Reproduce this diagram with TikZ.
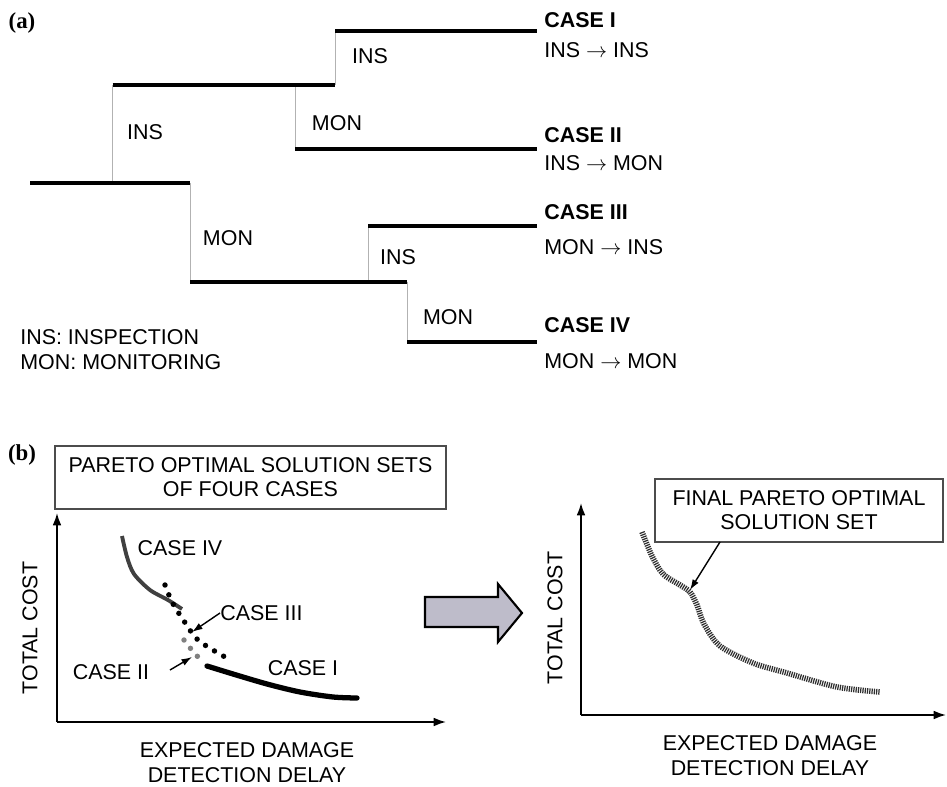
\documentclass[tikz,border=0pt]{standalone}
\usepackage{fontspec}
\setmainfont{Liberation Sans}
\newfontfamily\tagfont{Liberation Serif}
\usetikzlibrary{arrows.meta}

\tikzset{
	lvl/.style={line width=2.2pt},
	riser/.style={line width=0.5pt, gray!60},
	txt/.style={font=\fontsize{12.2}{14}\selectfont, inner sep=0pt},
	casetxt/.style={txt, font=\fontsize{12.2}{14}\selectfont\bfseries, anchor=west},
	tagtxt/.style={inner sep=0pt, font=\fontsize{13}{15}\selectfont\tagfont\bfseries},
	axis/.style={line width=1pt, -{Latex[length=7pt,width=5pt]}},
	pointer/.style={line width=0.8pt, -{Latex[length=6pt,width=4pt]}},
	titlebox/.style={draw=black!70, line width=0.8pt, align=center, inner sep=0pt,
		font=\fontsize{12.2}{13.6}\selectfont, minimum height=1.26cm},
	dotline/.style={line width=3.1pt, line cap=round, dash pattern=on 0pt off 6pt}
}

\begin{document}
\begin{tikzpicture}[x=0.02cm,y=-0.02cm]
	\useasboundingbox (0,0) rectangle (947,787);

	% (a) tree of choices
	\node[tagtxt] (taga) at (22,23) {(a)};

	\coordinate (r0) at (30,183);
	\coordinate (r1) at (190,183);
	\coordinate (i0) at (112.5,183);
	\coordinate (i1) at (112.5,85);
	\coordinate (i2) at (335,85);
	\coordinate (ii0) at (335,31);
	\coordinate (ii1) at (537,31);
	\coordinate (im0) at (295,85);
	\coordinate (im1) at (295,149);
	\coordinate (im2) at (537,149);
	\coordinate (m1) at (190,282);
	\coordinate (m2) at (407,282);
	\coordinate (mi0) at (368,282);
	\coordinate (mi1) at (368,226);
	\coordinate (mi2) at (537,226);
	\coordinate (mm1) at (407,342);
	\coordinate (mm2) at (537,342);

	\draw[riser] (i0) -- (i1);
	\draw[riser] (i2) -- (ii0);
	\draw[riser] (im0) -- (im1);
	\draw[riser] (r1) -- (m1);
	\draw[riser] (mi0) -- (mi1);
	\draw[riser] (m2) -- (mm1);

	\draw[lvl] (r0) -- (r1);
	\draw[lvl] (i1) -- (i2);
	\draw[lvl] (ii0) -- (ii1);
	\draw[lvl] (im1) -- (im2);
	\draw[lvl] (m1) -- (m2);
	\draw[lvl] (mi1) -- (mi2);
	\draw[lvl] (mm1) -- (mm2);

	\node[txt] (ins1) at (145,132) {INS};
	\node[txt] (ins2) at (370,56) {INS};
	\node[txt] (mon1) at (337,123) {MON};
	\node[txt] (mon2) at (228,238) {MON};
	\node[txt] (ins3) at (398,257) {INS};
	\node[txt] (mon3) at (448,317) {MON};

	\node[casetxt] (c1) at (544,20) {CASE I};
	\node[txt, anchor=west] (c1s) at (544,50) {INS $\rightarrow$ INS};
	\node[casetxt] (c2) at (544,135) {CASE II};
	\node[txt, anchor=west] (c2s) at (544,163) {INS $\rightarrow$ MON};
	\node[casetxt] (c3) at (544,212) {CASE III};
	\node[txt, anchor=west] (c3s) at (544,247) {MON $\rightarrow$ INS};
	\node[casetxt] (c4) at (544,325) {CASE IV};
	\node[txt, anchor=west] (c4s) at (544,361) {MON $\rightarrow$ MON};

	\node[txt, anchor=west] (leg1) at (20,337) {INS: INSPECTION};
	\node[txt, anchor=west] (leg2) at (20,362) {MON: MONITORING};

	% (b) left: four cases
	\node[tagtxt] (tagb) at (22,455) {(b)};
	\node[titlebox, minimum width=7.82cm] (setbox) at (250.5,477.5)
		{PARETO OPTIMAL SOLUTION SETS\\OF FOUR CASES};

	\coordinate (o1) at (57,722);
	\coordinate (y1) at (57,513);
	\coordinate (x1) at (446,722);
	\draw[axis] (o1) -- (y1);
	\draw[axis] (o1) -- (x1);
	\node[txt, rotate=90] (cost1) at (30,628) {TOTAL COST};
	\node[txt, align=center, font=\fontsize{12.2}{14.2}\selectfont] (delay1) at (247,762.5)
		{EXPECTED DAMAGE\\DETECTION DELAY};

	\draw[line width=2.2pt, black!75] plot[smooth] coordinates
		{(122,536) (127,557) (134,574) (150,590) (168,600) (182,609)};
	\draw[dotline, black] plot[smooth] coordinates
		{(165,585) (172,602) (182,618) (198,640) (225,657)};
	\draw[dotline, gray] plot[smooth] coordinates
		{(184,640) (191,649) (198,657)};
	\draw[line width=3pt, line cap=round] plot[smooth] coordinates
		{(207,666) (233,674) (267,684) (300,692) (333,697) (357,698)};

	\node[txt] (case4) at (180,548) {CASE IV};
	\node[txt, anchor=west] (case3) at (220,613) {CASE III};
	\node[txt] (case2) at (111,672) {CASE II};
	\node[txt] (case1) at (303,668) {CASE I};
	\coordinate (p3) at (192,632);
	\coordinate (p2) at (192,657);
	\draw[pointer] (case3.west) -- (p3);
	\draw[pointer] (170,670) -- (p2);

	% big arrow between panels
	\draw[line width=1.2pt, fill={rgb,255:red,190;green,188;blue,202}]
		(425,597) -- (498,597) -- (498,584) -- (522,613) -- (498,642)
		-- (498,627) -- (425,627) -- cycle;

	% (b) right: final set
	\node[titlebox, minimum width=5.76cm] (finalbox) at (799,510.5)
		{FINAL PARETO OPTIMAL\\SOLUTION SET};

	\coordinate (o2) at (581,715);
	\coordinate (y2) at (581,503);
	\coordinate (x2) at (946,715);
	\draw[axis] (o2) -- (y2);
	\draw[axis] (o2) -- (x2);
	\node[txt, rotate=90] (cost2) at (555,618) {TOTAL COST};
	\node[txt, align=center, font=\fontsize{12.2}{14.2}\selectfont] (delay2) at (770,755.5)
		{EXPECTED DAMAGE\\DETECTION DELAY};

	\draw[line width=3.2pt, black!82, dash pattern=on 0.7pt off 0.6pt] plot[smooth] coordinates
		{(642,532) (652,556) (663,574) (680,585) (690,592) (697,605) (704,624)
		 (720,646) (753,663) (787,673) (837,687) (880,692)};
	\coordinate (fs) at (720,542);
	\coordinate (fp) at (690,590);
	\draw[pointer] (fs) -- (fp);
\end{tikzpicture}
\end{document}
